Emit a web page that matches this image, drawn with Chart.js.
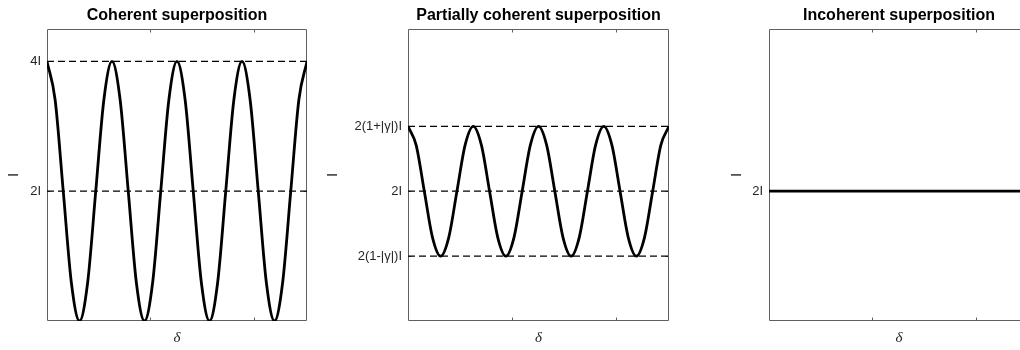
<!DOCTYPE html>
<html><head><meta charset="utf-8">
<script src="https://cdn.jsdelivr.net/npm/chart.js@4"></script>
<style>
html,body{margin:0;padding:0;background:#fff;overflow:hidden;width:1020px;height:350px;position:relative}
canvas{position:absolute;top:0}
</style></head>
<body>
<canvas id="c1" width="320" height="350" style="left:0px"></canvas>
<canvas id="c2" width="360" height="350" style="left:320px"></canvas>
<canvas id="c3" width="320" height="350" style="left:720px"></canvas>
<script>
// ---- data ----
const deltaValues = [0, 0.785, 1.571, 2.356, 3.142, 3.927, 4.712, 5.498, 6.283, 7.069, 7.854, 8.639, 9.425, 10.21, 10.996, 11.781, 12.566, 13.352, 14.137, 14.923, 15.708, 16.493, 17.279, 18.064, 18.85, 19.635, 20.42, 21.206, 21.991, 22.777, 23.562, 24.347, 25.133];
const coherentIntensity = [4, 3.41, 2, 0.59, 0, 0.59, 2, 3.41, 4, 3.41, 2, 0.59, 0, 0.59, 2, 3.41, 4, 3.41, 2, 0.59, 0, 0.59, 2, 3.41, 4, 3.41, 2, 0.59, 0, 0.59, 2, 3.41, 4];
const partialIntensity = [3, 2.71, 2, 1.29, 1, 1.29, 2, 2.71, 3, 2.71, 2, 1.29, 1, 1.29, 2, 2.71, 3, 2.71, 2, 1.29, 1, 1.29, 2, 2.71, 3, 2.71, 2, 1.29, 1, 1.29, 2, 2.71, 3];
const incoherentDelta = [0, 25.133];
const incoherentIntensity = [2, 2];

const xTickValues = [10, 20];
const xRange = [0, 25.133];
const yRange = [0, 4.5];

const coherentTickValues = [2, 4];
const coherentTickLabels = ['2I', '4I'];
const partialTickValues = [1, 2, 3];
const partialTickLabels = ['2(1-|γ|)I', '2I', '2(1+|γ|)I'];
const incoherentTickValues = [2];
const incoherentTickLabels = ['2I'];
const dashedCoherent = [2, 4];
const dashedPartial = [1, 2, 3];
const dashedIncoherent = [];

const panelTitles = ['Coherent superposition', 'Partially coherent superposition', 'Incoherent superposition'];
const yAxisTitle = 'I';
const xAxisTitle = 'δ';

// ---- drawing ----
const boxPlugin = {
  id: 'matlabBox',
  beforeDatasetsDraw(chart) {
    const {ctx, chartArea: a, scales: {x, y}} = chart;
    const L = Math.round(a.left) + 0.5, R = Math.round(a.right) - 0.5;
    const T = Math.round(a.top) + 0.5, B = Math.round(a.bottom) - 0.5;
    ctx.save();
    ctx.strokeStyle = '#606060';
    ctx.lineWidth = 1;
    ctx.beginPath();
    ctx.rect(L, T, R - L, B - T);
    for (const v of xTickValues) {
      const px = Math.round(x.getPixelForValue(v)) + 0.5;
      ctx.moveTo(px, B); ctx.lineTo(px, B - 3);
      ctx.moveTo(px, T); ctx.lineTo(px, T + 3);
    }
    for (const t of y.ticks) {
      const py = Math.round(y.getPixelForValue(t.value)) + 0.5;
      ctx.moveTo(L, py); ctx.lineTo(L + 3, py);
      ctx.moveTo(R, py); ctx.lineTo(R - 3, py);
    }
    ctx.stroke();
    ctx.restore();
  }
};

function makePanel(id, cfg) {
  const datasets = [];
  cfg.dashed.forEach(v => {
    datasets.push({
      data: [{x: xRange[0], y: v}, {x: xRange[1], y: v}],
      borderColor: '#000', borderWidth: 1.3, borderDash: [7, 4],
      pointRadius: 0, fill: false, order: 2
    });
  });
  datasets.push({
    data: cfg.xs.map((d, i) => ({x: d, y: cfg.ys[i]})),
    borderColor: '#000', borderWidth: 2.8, pointRadius: 0, fill: false,
    cubicInterpolationMode: 'monotone', order: 1
  });
  new Chart(document.getElementById(id), {
    type: 'line',
    data: {datasets},
    plugins: [boxPlugin],
    options: {
      responsive: false, animation: false, events: [],
      layout: {padding: {left: 0, right: cfg.padRight, top: 0, bottom: 0}},
      plugins: {
        legend: {display: false}, tooltip: {enabled: false},
        title: {
          display: true, text: cfg.title, fullSize: false, color: '#000',
          font: {family: 'Liberation Sans, Arial, sans-serif', size: 16, weight: 'bold'},
          padding: {top: 6, bottom: 3.8}
        }
      },
      scales: {
        x: {
          type: 'linear', min: xRange[0], max: xRange[1],
          afterBuildTicks: s => { s.ticks = xTickValues.map(v => ({value: v})); },
          afterFit: s => { s.height = 29; },
          ticks: {display: false},
          grid: {display: false, drawTicks: false},
          border: {display: false},
          title: {display: true, text: xAxisTitle, color: '#222',
            font: {family: 'Liberation Serif, Times New Roman, serif', size: 15, style: 'italic'},
            padding: {top: 0, bottom: 3}}
        },
        y: {
          type: 'linear', min: yRange[0], max: yRange[1],
          afterBuildTicks: s => { s.ticks = cfg.tickValues.map(v => ({value: v})); },
          afterFit: s => { s.width = cfg.axisWidth; },
          ticks: {
            color: '#262626', padding: 6,
            font: {family: 'Liberation Sans, Arial, sans-serif', size: 13},
            callback: v => { const i = cfg.tickValues.indexOf(v); return i >= 0 ? cfg.tickLabels[i] : ''; }
          },
          grid: {display: false, drawTicks: false},
          border: {display: false},
          title: {display: true, text: yAxisTitle, color: '#222',
            font: {family: 'Liberation Sans, Arial, sans-serif', size: 15},
            padding: {top: cfg.yTitlePad, bottom: 0}}
        }
      }
    }
  });
}

makePanel('c1', {title: panelTitles[0], xs: deltaValues, ys: coherentIntensity,
  tickValues: coherentTickValues, tickLabels: coherentTickLabels, dashed: dashedCoherent,
  axisWidth: 47, padRight: 13, yTitlePad: 5});
makePanel('c2', {title: panelTitles[1], xs: deltaValues, ys: partialIntensity,
  tickValues: partialTickValues, tickLabels: partialTickLabels, dashed: dashedPartial,
  axisWidth: 88, padRight: 11, yTitlePad: 3.5});
makePanel('c3', {title: panelTitles[2], xs: incoherentDelta, ys: incoherentIntensity,
  tickValues: incoherentTickValues, tickLabels: incoherentTickLabels, dashed: dashedIncoherent,
  axisWidth: 49, padRight: 11, yTitlePad: 7.5});
</script>
</body></html>
